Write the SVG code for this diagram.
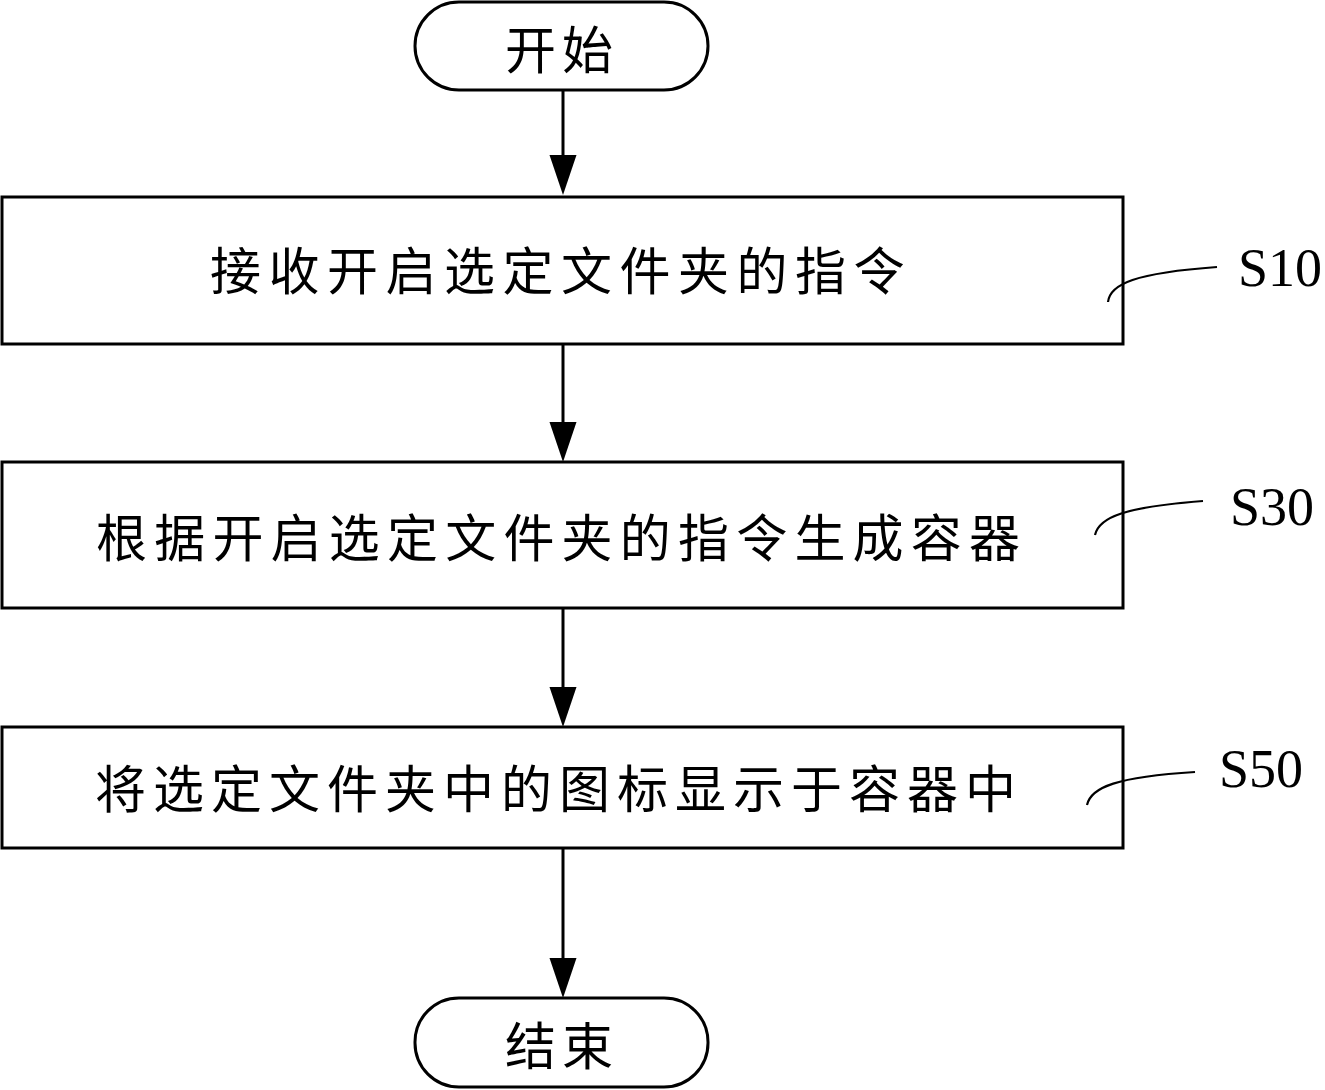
<svg xmlns="http://www.w3.org/2000/svg" width="1325" height="1090" viewBox="0 0 1325 1090">
<style>
.shape{fill:#fff;stroke:#000;stroke-width:3}
.cn{font-family:"Noto Sans CJK SC","Noto Sans CJK JP",sans-serif;font-size:51px;fill:#000}
.lbl{font-family:"Liberation Serif","Times New Roman",serif;font-size:54px;fill:#000}
.conn{stroke:#000;stroke-width:3;fill:none}
.lead{stroke:#000;stroke-width:2.2;fill:none}
</style>
<defs>
<marker id="arr" markerUnits="userSpaceOnUse" markerWidth="42" markerHeight="30" viewBox="0 -15 42 30" refX="30" refY="0" orient="auto">
<path d="M0,-13.5 L40,0 L0,13.5 z" fill="#000"/>
</marker>
</defs>
<rect width="1325" height="1090" fill="#fff"/>
<g id="connectors">
<line class="conn" x1="563" y1="90" x2="563" y2="185" marker-end="url(#arr)"/>
<line class="conn" x1="563" y1="344" x2="563" y2="452" marker-end="url(#arr)"/>
<line class="conn" x1="563" y1="608" x2="563" y2="717" marker-end="url(#arr)"/>
<line class="conn" x1="563" y1="848" x2="563" y2="988" marker-end="url(#arr)"/>
</g>
<g id="start">
<rect class="shape" x="415" y="2" width="293" height="88" rx="44" ry="44"/>
<text class="cn" x="505" y="47" dominant-baseline="central" letter-spacing="6">开始</text>
</g>
<g id="s10">
<rect class="shape" x="2" y="197" width="1121" height="147"/>
<text class="cn" x="210" y="268" dominant-baseline="central" letter-spacing="7.5">接收开启选定文件夹的指令</text>
<path class="lead" d="M1108,302 C1110,284 1135,273 1217,267"/>
<text class="lbl" x="1238" y="286">S10</text>
</g>
<g id="s30">
<rect class="shape" x="2" y="462" width="1121" height="146"/>
<text class="cn" x="96" y="535" dominant-baseline="central" letter-spacing="7.2">根据开启选定文件夹的指令生成容器</text>
<path class="lead" d="M1095,535 C1099,517 1125,507 1203,501"/>
<text class="lbl" x="1230" y="525">S30</text>
</g>
<g id="s50">
<rect class="shape" x="2" y="727" width="1121" height="121"/>
<text class="cn" x="95" y="786" dominant-baseline="central" letter-spacing="7">将选定文件夹中的图标显示于容器中</text>
<path class="lead" d="M1087,805 C1091,787 1117,777 1195,772"/>
<text class="lbl" x="1219" y="787">S50</text>
</g>
<g id="end">
<rect class="shape" x="415" y="998" width="293" height="89" rx="44" ry="44"/>
<text class="cn" x="505" y="1043" dominant-baseline="central" letter-spacing="6">结束</text>
</g>
</svg>
